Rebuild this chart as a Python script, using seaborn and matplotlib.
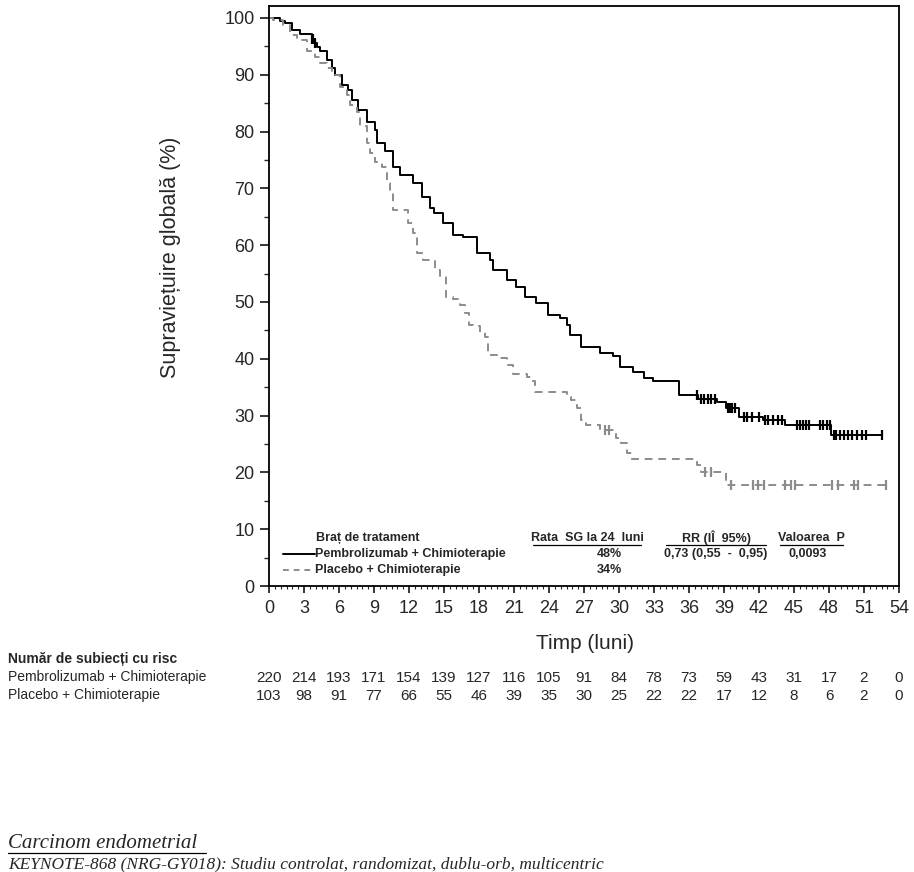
import numpy as np
import pandas as pd
import matplotlib
matplotlib.use("Agg")
import matplotlib.pyplot as plt
import matplotlib.transforms as mtransforms
from matplotlib.lines import Line2D
from matplotlib import font_manager
import seaborn as sns

# ---------------- data ----------------
pem_t = [0, 0.94, 1.37, 1.94, 2.66, 3.66, 3.9, 4.1, 4.37, 4.94, 5.37, 5.66, 6.23, 6.8, 7.09,
         7.66, 8.37, 9.09, 9.23, 9.94, 10.66, 11.23, 12.37, 13.09, 13.8, 14.1, 14.9, 15.8,
         16.65, 17.8, 18.94, 19.2, 20.4, 21.2, 21.9, 22.9, 23.9, 24.9, 25.5, 25.8, 26.7,
         28.4, 29.5, 30.1, 31.2, 32.1, 32.9, 35.1, 36.8, 38.4, 39.2, 40.3, 42.3, 44.2,
         48.2, 52.5]
pem_s = [100, 99.5, 99.1, 97.9, 97.2, 96.3, 95.5, 94.9, 94.1, 92.6, 91.1, 90.0, 88.2, 87.3,
         85.6, 83.8, 81.7, 80.3, 77.9, 76.5, 73.8, 72.4, 70.9, 68.5, 66.5, 65.6, 63.9, 61.8,
         61.5, 58.6, 57.4, 55.6, 53.9, 52.7, 50.9, 49.8, 47.7, 47.1, 46.0, 44.2, 42.1, 41.0,
         40.4, 38.6, 37.7, 36.6, 36.0, 33.7, 33.0, 32.4, 31.3, 29.8, 29.2, 28.3, 26.6, 26.6]
pem_cens = [3.7, 3.8, 3.95, 36.7, 37.0, 37.3, 37.6, 37.9, 38.2, 39.3, 39.5, 39.7, 39.9,
            40.7, 41.0, 41.4, 42.0, 42.5, 42.8, 43.2, 43.6, 44.0, 45.3, 45.5, 45.8, 46.0,
            46.3, 47.2, 47.5, 47.8, 48.1, 48.4, 48.6, 48.9, 49.3, 49.6, 50.0, 50.4, 50.8,
            51.2, 52.5]

pla_t = [0, 0.37, 1.23, 1.8, 2.37, 3.23, 3.94, 4.37, 4.94, 5.37, 6.09, 6.66, 6.94, 7.5, 7.8,
         8.37, 8.66, 9.09, 9.66, 10.1, 10.37, 10.66, 11.94, 12.37, 12.66, 13.2, 14.2, 14.66,
         15.2, 15.8, 16.4, 16.8, 17.1, 17.5, 18.1, 18.5, 18.8, 19.5, 20.4, 20.9, 22.1, 22.5,
         22.8, 25.5, 25.9, 26.4, 26.7, 27.2, 28.4, 29.7, 30.2, 30.7, 31.1, 36.7, 37.0, 39.2,
         53.0]
pla_s = [100, 99.6, 98.8, 97.0, 96.1, 94.1, 93.2, 92.0, 91.1, 90.0, 87.9, 86.4, 84.7, 83.5,
         80.9, 77.9, 76.2, 74.7, 73.8, 70.9, 69.4, 66.2, 63.9, 62.1, 58.6, 57.4, 55.6, 54.5,
         50.9, 50.6, 49.5, 48.0, 46.0, 45.7, 44.8, 43.9, 40.7, 40.1, 38.9, 37.4, 36.8, 36.0,
         34.2, 33.3, 32.7, 31.3, 29.2, 28.3, 27.5, 26.0, 25.1, 23.4, 22.3, 21.3, 20.1, 17.8,
         17.8]
pla_cens = [28.8, 29.1, 37.4, 37.9, 39.6, 41.5, 41.9, 42.4, 44.2, 44.7, 45.1, 48.3, 48.8,
            50.1, 50.5, 52.9]

x_ticks = list(range(0, 55, 3))
risk_pem = [220, 214, 193, 171, 154, 139, 127, 116, 105, 91, 84, 78, 73, 59, 43, 31, 17, 2, 0]
risk_pla = [103, 98, 91, 77, 66, 55, 46, 39, 35, 30, 25, 22, 22, 17, 12, 8, 6, 2, 0]
arm_names = ["Pembrolizumab + Chimioterapie", "Placebo + Chimioterapie"]
os24 = ["48%", "34%"]
hr_text = "0,73 (0,55  -  0,95)"
p_text = "0,0093"

# ---------------- styling ----------------
sns.set_style("ticks")
names = {f.name for f in font_manager.fontManager.ttflist}
NARROW = "Liberation Sans Narrow" if "Liberation Sans Narrow" in names else "Liberation Sans"
plt.rcParams["font.family"] = ["Liberation Sans", "DejaVu Sans"]

BLACK = "#000000"
GRAY = "#8c8c8c"

fig = plt.figure(figsize=(9.14, 8.72), dpi=100)
W, H = 914, 872
ax = fig.add_axes([269 / W, 1 - 586 / H, (899 - 269) / W, (586 - 6) / H])


def cens_vals(ts, ss, cts):
    ts = np.asarray(ts)
    ss = np.asarray(ss)
    idx = np.searchsorted(ts, cts, side="right") - 1
    return ss[idx]


df_pem = pd.DataFrame({"t": pem_t, "S": pem_s})
df_pla = pd.DataFrame({"t": pla_t, "S": pla_s})

sns.lineplot(data=df_pem, x="t", y="S", drawstyle="steps-post", color=BLACK, lw=1.4,
             estimator=None, sort=False, ax=ax)
sns.lineplot(data=df_pla, x="t", y="S", drawstyle="steps-post", color=GRAY, lw=1.4,
             linestyle=(0, (4, 3)), estimator=None, sort=False, ax=ax)

sns.scatterplot(x=pem_cens, y=cens_vals(pem_t, pem_s, pem_cens), marker="|", s=55,
                color=BLACK, linewidth=1.6, ax=ax, zorder=3)
sns.scatterplot(x=pla_cens, y=cens_vals(pla_t, pla_s, pla_cens), marker="|", s=55,
                color=GRAY, linewidth=1.6, ax=ax, zorder=3)

ax.set_xlim(0, 54)
ax.set_ylim(0, 102.1)
ax.set_xticks(x_ticks)
ax.set_xticks(np.arange(0, 54.01, 0.5), minor=True)
ax.set_yticks(range(0, 101, 10))
ax.set_yticks(range(5, 100, 10), minor=True)
ax.tick_params(axis="both", which="major", labelsize=13, width=1.1, color="black")
ax.tick_params(axis="y", which="major", length=6.5, pad=4)
ax.tick_params(axis="y", which="minor", length=3.5, width=1.0)
ax.tick_params(axis="x", which="major", length=5, pad=5)
ax.tick_params(axis="x", which="minor", length=2.5, width=0.8)
for sp in ax.spines.values():
    sp.set_visible(True)
    sp.set_linewidth(1.3)
    sp.set_color("black")

ax.set_xlabel("Timp (luni)", fontsize=15)
ax.set_ylabel("Supraviețuire globală (%)", fontsize=15.5)
ax.xaxis.set_label_coords(0.502, -0.083)
ax.yaxis.set_label_coords(-0.14, 0.567)

# ---------------- in-plot legend / stats table ----------------
lkw = dict(fontsize=9, fontweight="bold", family=[NARROW, "DejaVu Sans"], va="center")
y_head, y_r1, y_r2 = 8.45, 5.63, 2.82
ax.text(4.0, y_head, "Braț de tratament", ha="left", **lkw)
ax.text(27.3, y_head, "Rata  SG la 24  luni", ha="center", **lkw)
ax.text(38.4, y_head, "RR (IÎ  95%)", ha="center", **lkw)
ax.text(46.5, y_head, "Valoarea  P", ha="center", **lkw)
for x0, x1 in [(22.6, 31.9), (34.0, 42.6), (43.8, 49.2)]:
    ax.add_line(Line2D([x0, x1], [7.15, 7.15], color="black", lw=0.9))
ax.add_line(Line2D([1.2, 3.9], [y_r1, y_r1], color=BLACK, lw=1.4))
ax.add_line(Line2D([1.2, 3.9], [y_r2, y_r2], color=GRAY, lw=1.4, linestyle=(0, (3, 2.5))))
ax.text(3.95, y_r1, arm_names[0], ha="left", **lkw)
ax.text(3.95, y_r2, arm_names[1], ha="left", **lkw)
ax.text(29.2, y_r1, os24[0], ha="center", **lkw)
ax.text(29.2, y_r2, os24[1], ha="center", **lkw)
ax.text(38.3, y_r1, hr_text, ha="center", **lkw)
ax.text(46.2, y_r1, p_text, ha="center", **lkw)

# ---------------- number at risk ----------------
fig.text(8 / W, 1 - 659 / H, "Număr de subiecți cu risc", fontsize=10, fontweight="bold",
         family=[NARROW, "DejaVu Sans"], va="center", ha="left")
fig.text(8 / W, 1 - 677 / H, arm_names[0], fontsize=10, family=[NARROW, "DejaVu Sans"],
         va="center", ha="left")
fig.text(8 / W, 1 - 695 / H, arm_names[1], fontsize=10, family=[NARROW, "DejaVu Sans"],
         va="center", ha="left")
blend = mtransforms.blended_transform_factory(ax.transData, fig.transFigure)
for xt, a, b in zip(x_ticks, risk_pem, risk_pla):
    ax.text(xt, 1 - 678 / H, str(a), transform=blend, ha="center", va="center",
            fontsize=11, clip_on=False)
    ax.text(xt, 1 - 696 / H, str(b), transform=blend, ha="center", va="center",
            fontsize=11, clip_on=False)

# ---------------- text below ----------------
fig.text(8 / W, 1 - 843 / H, "Carcinom endometrial", fontsize=15, style="italic",
         family=["Liberation Serif", "DejaVu Serif"], va="center", ha="left")
fig.add_artist(Line2D([8 / W, 206 / W], [1 - 853 / H, 1 - 853 / H], color="black", lw=0.9,
                      transform=fig.transFigure))
fig.text(8 / W, 1 - 856 / H,
         "KEYNOTE-868 (NRG-GY018): Studiu controlat, randomizat, dublu-orb, multicentric",
         fontsize=12.5, style="italic", family=["Liberation Serif", "DejaVu Serif"],
         va="top", ha="left")

fig.savefig("out.png", dpi=100)
